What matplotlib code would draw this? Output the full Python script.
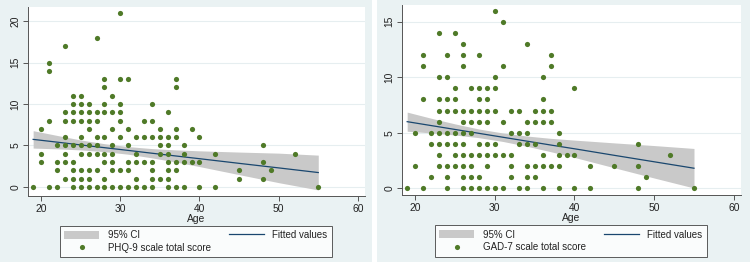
import numpy as np
import matplotlib
matplotlib.use("Agg")
import matplotlib.pyplot as plt
from matplotlib.patches import Rectangle, Patch
from matplotlib.lines import Line2D

plt.rcParams['font.family'] = ['Liberation Sans', 'DejaVu Sans']

# ---- PHQ-9 data: ages observed at each total score ----
phq_s0 = [19, 21, 22, 24, 25, 26, 27, 28, 29, 30, 31, 32, 33, 34, 36, 37, 38, 40, 42, 55]
phq_s1 = [23, 24, 25, 26, 28, 32, 34, 35, 36, 45, 48]
phq_s2 = [22, 24, 25, 26, 27, 29, 30, 31, 34, 36, 37, 45, 49]
phq_s3 = [20, 22, 23, 24, 28, 29, 31, 32, 33, 34, 36, 37, 38, 39, 40, 48]
phq_s4 = [20, 23, 25, 26, 27, 28, 29, 32, 35, 36, 38, 42, 52]
phq_s5 = [22, 23, 24, 25, 26, 27, 29, 31, 35, 36, 38, 48]
phq_s6 = [23, 25, 27, 28, 30, 32, 33, 34, 35, 36, 37, 40]
phq_s7 = [20, 26, 29, 31, 35, 37, 39]
phq_s8 = [21, 23, 24, 25, 26, 27, 30, 33, 34]
phq_s9 = [23, 24, 25, 26, 27, 28, 29, 30, 36]
phq_s10 = [24, 25, 26, 28, 30, 34]
phq_s11 = [24, 25, 29]
phq_s12 = [28, 37]
phq_s13 = [28, 30, 31, 37]
phq_s14 = [21]
phq_s15 = [21]
phq_s17 = [23]
phq_s18 = [27]
phq_s21 = [30]

# ---- GAD-7 data: ages observed at each total score ----
gad_s0 = [19, 21, 24, 26, 27, 28, 29, 30, 31, 33, 34, 36, 38, 40, 42, 48, 55]
gad_s1 = [22, 24, 26, 27, 28, 32, 34, 35, 49]
gad_s2 = [20, 23, 24, 25, 26, 27, 29, 32, 34, 35, 36, 37, 38, 42, 45, 48]
gad_s3 = [23, 25, 26, 27, 28, 29, 30, 31, 32, 36, 38, 39, 40, 52]
gad_s4 = [22, 23, 24, 25, 26, 28, 29, 30, 33, 34, 35, 38, 48]
gad_s5 = [20, 22, 23, 24, 25, 26, 27, 32, 33, 34, 38]
gad_s6 = [23, 26, 27, 28, 29, 31, 34, 35, 36, 37]
gad_s7 = [23, 24, 25, 26, 27, 28, 29, 30, 32, 33, 35, 36, 37]
gad_s8 = [21, 23, 24, 25, 28, 29, 36]
gad_s9 = [25, 27, 28, 29, 30, 40]
gad_s10 = [23, 24, 30, 36]
gad_s11 = [21, 26, 31, 37]
gad_s12 = [21, 24, 26, 28, 37]
gad_s13 = [26, 34]
gad_s14 = [23, 25]
gad_s15 = [31]
gad_s16 = [30]

# ---- Fitted values and 95% CI ----
fit_age = [19, 22, 25, 28, 31, 34, 37, 40, 45, 50, 55]
phq_fit = [5.73, 5.40, 5.06, 4.73, 4.40, 4.06, 3.73, 3.40, 2.84, 2.29, 1.73]
phq_ci_lo = [4.68, 4.59, 4.46, 4.25, 3.94, 3.50, 3.00, 2.45, 1.48, 0.51, -0.37]
phq_ci_hi = [6.78, 6.21, 5.66, 5.21, 4.86, 4.62, 4.46, 4.35, 4.20, 4.07, 3.83]
gad_fit = [6.00, 5.65, 5.30, 4.95, 4.60, 4.25, 3.90, 3.56, 2.97, 2.39, 1.81]
gad_ci_lo = [5.14, 4.99, 4.80, 4.56, 4.22, 3.79, 3.30, 2.78, 1.85, 0.93, 0.03]
gad_ci_hi = [6.86, 6.31, 5.80, 5.34, 4.98, 4.71, 4.50, 4.34, 4.09, 3.85, 3.59]

phq_levels = {0: phq_s0, 1: phq_s1, 2: phq_s2, 3: phq_s3, 4: phq_s4, 5: phq_s5,
              6: phq_s6, 7: phq_s7, 8: phq_s8, 9: phq_s9, 10: phq_s10, 11: phq_s11,
              12: phq_s12, 13: phq_s13, 14: phq_s14, 15: phq_s15, 17: phq_s17,
              18: phq_s18, 21: phq_s21}
gad_levels = {0: gad_s0, 1: gad_s1, 2: gad_s2, 3: gad_s3, 4: gad_s4, 5: gad_s5,
              6: gad_s6, 7: gad_s7, 8: gad_s8, 9: gad_s9, 10: gad_s10, 11: gad_s11,
              12: gad_s12, 13: gad_s13, 14: gad_s14, 15: gad_s15, 16: gad_s16}

x_ticks = [20, 30, 40, 50, 60]
phq_yticks = [0, 5, 10, 15, 20]
gad_yticks = [0, 5, 10, 15]

BG = '#EAF2F3'
DOT = '#4F7A28'
LINE = '#1A476F'
CI = '#C9C9C9'
AX = '#555555'

W, H = 750, 262
fig = plt.figure(figsize=(W / 100, H / 100), dpi=100)
fig.patch.set_facecolor('white')

# panel backgrounds
fig.patches.append(Rectangle((0, 0), 372 / W, 1, transform=fig.transFigure,
                             facecolor=BG, edgecolor='none', zorder=-10))
fig.patches.append(Rectangle((377 / W, 0), (W - 377) / W, 1, transform=fig.transFigure,
                             facecolor=BG, edgecolor='none', zorder=-10))


def to_xy(levels):
    ages, scores = [], []
    for s, lst in levels.items():
        ages += lst
        scores += [s] * len(lst)
    return np.array(ages, float), np.array(scores, float)


def panel(rect_px, levels, fit, lo, hi, yticks, ylim, label, legend_px):
    l, t, r, b = rect_px
    ax = fig.add_axes([l / W, (H - b) / H, (r - l) / W, (b - t) / H])
    ax.set_facecolor('white')
    x, y = to_xy(levels)
    ax.fill_between(fit_age, lo, hi, color=CI, lw=0, zorder=2)
    ax.plot(fit_age, fit, color=LINE, lw=0.9, zorder=3)
    ax.scatter(x, y, s=14, color=DOT, lw=0, zorder=4)

    ax.set_xlim(18.35, 60.9)
    ax.set_ylim(*ylim)
    ax.set_xticks(x_ticks)
    ax.set_yticks(yticks)
    ax.grid(axis='y', color='#E6EEF0', lw=0.8, zorder=0)
    ax.set_axisbelow(True)
    for sp in ['top', 'right']:
        ax.spines[sp].set_visible(False)
    for sp in ['left', 'bottom']:
        ax.spines[sp].set_color(AX)
        ax.spines[sp].set_linewidth(0.7)
    ax.tick_params(axis='both', length=3.5, width=0.7, color=AX, labelsize=7.4,
                   labelcolor='#222222', pad=2)
    for tl in ax.get_yticklabels():
        tl.set_rotation(90)
        tl.set_va('center')
    ax.set_xlabel('Age', fontsize=7.4, labelpad=0.5, color='#222222')

    handles = [Patch(facecolor=CI, edgecolor='none'),
               Line2D([], [], marker='o', color=DOT, ls='none', markersize=3.7,
                      markeredgewidth=0),
               Line2D([], [], color=LINE, lw=0.9)]
    labels = ['95% CI', label, 'Fitted values']
    ll, lt, lr, lb = legend_px
    leg = fig.legend(handles, labels, ncol=2, loc='center',
                     bbox_to_anchor=((ll + lr) / 2 / W, (H - (lt + lb) / 2) / H),
                     fontsize=7.0, frameon=True, fancybox=False,
                     handlelength=3.6, handleheight=0.9, handletextpad=0.9,
                     columnspacing=1.8, labelspacing=0.3, borderpad=0.45,
                     borderaxespad=0)
    fr = leg.get_frame()
    fr.set_edgecolor('#333333')
    fr.set_linewidth(0.7)
    fr.set_facecolor('white')
    for txt in leg.get_texts():
        txt.set_color('#222222')
    return ax


panel((28, 7, 365, 196), phq_levels, phq_fit, phq_ci_lo, phq_ci_hi,
      phq_yticks, (-1.1, 21.7), 'PHQ-9 scale total score', (65, 226, 327, 257))
panel((402, 5, 741, 195), gad_levels, gad_fit, gad_ci_lo, gad_ci_hi,
      gad_yticks, (-0.6, 16.5), 'GAD-7 scale total score', (439, 226, 703, 256))

fig.savefig('out.png', dpi=100, facecolor=fig.get_facecolor())
